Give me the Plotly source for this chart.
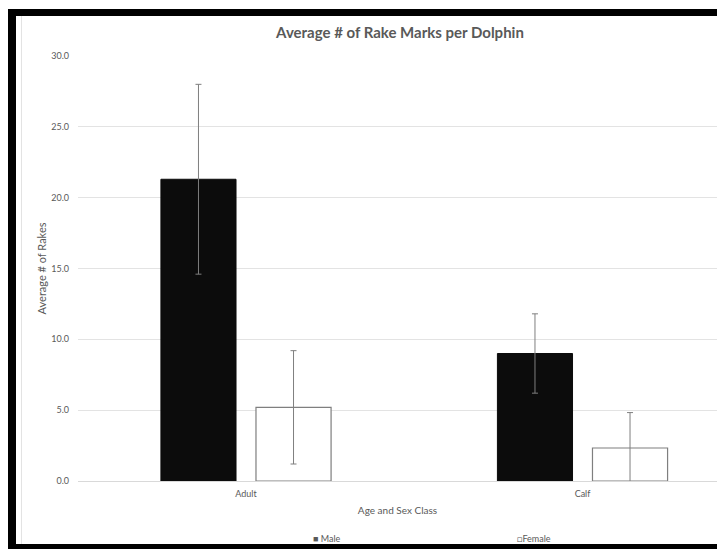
import plotly.graph_objects as go

categories = ["Adult", "Calf"]
male_values = [21.3, 9.0]
male_err = [6.7, 2.8]
female_values = [5.2, 2.33]
female_err = [4.0, 2.5]
y_ticks = [0, 5, 10, 15, 20, 25, 30]

W, H = 709, 541
L, R_edge, T, B_edge = 70, 709, 48, 473

def px_x(px):
    return (px - L) / (R_edge - L)

def px_y(py):
    return (B_edge - py) / (B_edge - T)

FONT = "Lato"
GRAY = "#595959"

fig = go.Figure()
fig.add_trace(go.Bar(
    name="Male", x=categories, y=male_values,
    marker=dict(color="#0c0c0c", line=dict(color="#0c0c0c", width=1)),
    error_y=dict(type="data", array=male_err, color="#7f7f7f", thickness=1, width=3),
))
fig.add_trace(go.Bar(
    name="Female", x=categories, y=female_values,
    marker=dict(color="#ffffff", line=dict(color="#7f7f7f", width=1.2)),
    error_y=dict(type="data", array=female_err, color="#7f7f7f", thickness=1, width=3),
))

shapes = [
    dict(type="line", xref="paper", yref="paper", x0=px_x(4), x1=px_x(4), y0=px_y(H + 10), y1=px_y(1),
         line=dict(color="black", width=8), layer="above"),
    dict(type="line", xref="paper", yref="paper", x0=px_x(0), x1=px_x(W + 40), y0=px_y(4.5), y1=px_y(4.5),
         line=dict(color="black", width=7), layer="above"),
    dict(type="line", xref="paper", yref="paper", x0=px_x(0), x1=px_x(W + 40), y0=px_y(H - 2.5), y1=px_y(H - 2.5),
         line=dict(color="black", width=5), layer="above"),
    dict(type="line", xref="paper", yref="paper", x0=px_x(13.5), x1=px_x(13.5), y0=px_y(H - 5), y1=px_y(8),
         line=dict(color="#e3e3e3", width=1)),
]

annotations = [
    dict(text="■ Male", xref="paper", yref="paper", x=px_x(303), y=px_y(530), xanchor="left",
         yanchor="middle", showarrow=False, font=dict(size=9, color=GRAY, family=FONT)),
    dict(text="□Female", xref="paper", yref="paper", x=px_x(507), y=px_y(530), xanchor="left",
         yanchor="middle", showarrow=False, font=dict(size=9, color=GRAY, family=FONT)),
]

fig.update_layout(
    width=W, height=H, autosize=False,
    margin=dict(l=L, r=W - R_edge, t=T, b=H - B_edge, pad=0),
    paper_bgcolor="white", plot_bgcolor="white",
    barmode="group", bargap=0.435, bargroupgap=0.21,
    showlegend=False,
    font=dict(family=FONT, color=GRAY, size=10),
    title=dict(text="<b>Average # of Rake Marks per Dolphin</b>", x=392 / W,
               xanchor="center", y=1 - 25 / H, yanchor="middle",
               font=dict(family=FONT, size=15, color=GRAY)),
    xaxis=dict(range=[-(238 - L) / 336.5, (R_edge - 238) / 336.5], showgrid=False, showline=True,
               linecolor="#d9d9d9", linewidth=1, ticks="", tickfont=dict(size=9, color=GRAY),
               ticklabelstandoff=4,
               title=dict(text="Age and Sex Class", font=dict(size=10, color=GRAY), standoff=9)),
    yaxis=dict(range=[0, 30], tickvals=y_ticks, tickformat=".1f", showgrid=True, gridcolor="#e3e3e3",
               gridwidth=1, zeroline=False, showline=False, ticks="", tickfont=dict(size=9, color=GRAY),
               ticklabelstandoff=8,
               title=dict(text="Average # of Rakes", font=dict(size=11, color=GRAY), standoff=2)),
    shapes=shapes,
    annotations=annotations,
)

fig.write_html("out.html")
